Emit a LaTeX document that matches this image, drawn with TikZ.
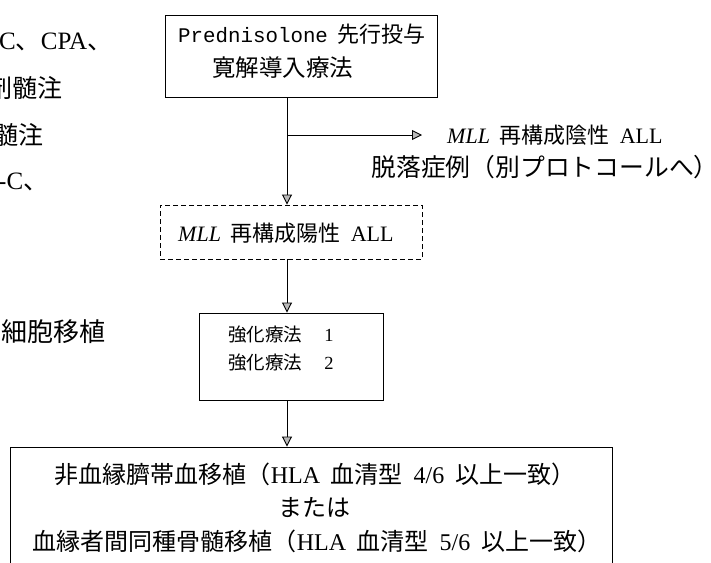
\documentclass[tikz,border=0pt]{standalone}
\usepackage{fontspec}
\setmainfont{Liberation Serif}
\newfontfamily\jp{Noto Sans CJK JP}
\newfontfamily\mono{Liberation Mono}
\usetikzlibrary{arrows.meta}
\newcommand{\J}[1]{{\jp #1}}
\newcommand{\gap}{\hspace{0.45em}}
\begin{document}
\begin{tikzpicture}[x=1pt,y=-1pt,
  box/.style={draw=black, line width=0.9pt, rectangle, inner sep=0pt},
  dbox/.style={box, dash pattern=on 5pt off 3pt},
  txt/.style={inner sep=0pt, font=\fontsize{22}{26}\selectfont},
  btxt/.style={inner sep=0pt, font=\fontsize{24}{28}\selectfont},
  stxt/.style={inner sep=0pt, font=\fontsize{18.5}{22}\selectfont},
  frag/.style={inner sep=0pt, font=\fontsize{25}{29}\selectfont, anchor=east},
  arr/.style={line width=0.9pt, -{Triangle[length=10pt,width=10pt,fill=gray!55]}},
  ln/.style={line width=0.9pt}]
\useasboundingbox (0,0) rectangle (711,562);
\clip (0,0) rectangle (711,562);

% left fragments
\node[frag, anchor=west] (f1) at (-1,42) {C\J{、}CPA\J{、}};
\node[frag] (f2) at (63,88) {\J{剤髄注}};
\node[frag] (f3) at (44,135) {\J{髄注}};
\node[frag, anchor=west] (f4) at (-2,182) {-C\J{、}};
\node[frag] (f5) at (106,332) {\fontsize{26}{30}\selectfont\J{細胞移植}};

% top box
\node[box, minimum width=272pt, minimum height=82pt] (b1) at (301,56) {};
\node[txt, anchor=west] (b1a) at (178,34) {{\mono\fontsize{20.8}{24}\selectfont Prednisolone}\gap\J{先行投与}};
\node[txt, anchor=west, font=\fontsize{23.5}{27}\selectfont] (b1b) at (212,68) {\J{寛解導入療法}};

% junction and branch
\coordinate (j) at (287,135);
\coordinate (ex) at (422,135);
\node[txt, anchor=west] (n1) at (447,135) {\textit{MLL}\gap\J{再構成陰性}\gap ALL};
\node[txt, font=\fontsize{24.8}{29}\selectfont] (n2) at (545,167) {\J{脱落症例（別プロトコールへ）}};

% dashed box
\node[dbox, minimum width=262pt, minimum height=54pt] (b2) at (291,232) {};
\node[txt, anchor=west] (b2a) at (178,233) {\textit{MLL}\gap\J{再構成陽性}\gap ALL};

% consolidation box
\node[box, minimum width=184pt, minimum height=87pt] (b3) at (291,356.5) {};
\node[stxt, anchor=west] (b3a) at (228,335) {\J{強化療法}\hspace{1.2em}1};
\node[stxt, anchor=west] (b3b) at (228,363) {\J{強化療法}\hspace{1.2em}2};

% bottom box
\node[box, minimum width=602pt, minimum height=140pt] (b4) at (311,517) {};
\node[btxt] (b4a) at (315,474) {\J{非血縁臍帯血移植（}HLA\gap\J{血清型}\gap 4/6\gap\J{以上一致）}};
\node[btxt] (b4b) at (314,508) {\J{または}};
\node[btxt] (b4c) at (317,541) {\J{血縁者間同種骨髄移植（}HLA\gap\J{血清型}\gap 5/6\gap\J{以上一致）}};

% connectors
\draw[ln] (b1.south -| j) -- (j);
\draw[arr] (j) -- (ex);
\draw[arr] (j) -- (j |- b2.north);
\draw[arr] (b2.south -| j) -- (j |- b3.north);
\draw[arr] (b3.south -| j) -- (j |- b4.north);
\end{tikzpicture}
\end{document}
